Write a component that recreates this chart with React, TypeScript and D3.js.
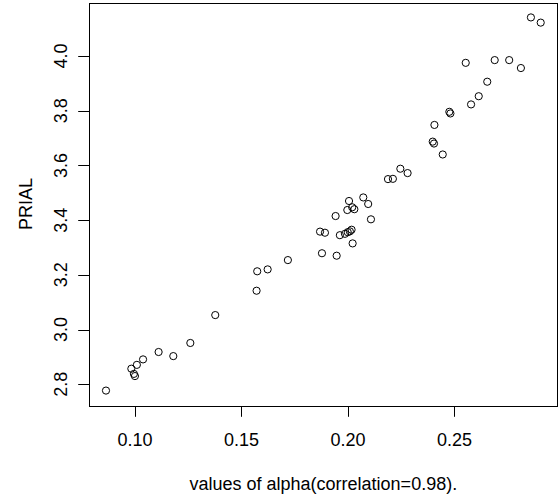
import React from "react";
import * as d3 from "d3";

// alpha values and the corresponding PRIAL for each replication
const alphaValues = [
  0.0864, 0.0983, 0.1009, 0.1038, 0.0995, 0.1000, 0.1111, 0.1180, 0.1260, 0.1377,
  0.1571, 0.1574, 0.1623, 0.1718, 0.1869, 0.1892, 0.1878, 0.1947, 0.1942, 0.1962,
  0.1986, 0.1999, 0.2009, 0.2017, 0.2022, 0.2005, 0.1997, 0.2020, 0.2030, 0.2072,
  0.2095, 0.2108, 0.2188, 0.2211, 0.2246, 0.2280, 0.2398, 0.2404, 0.2406, 0.2445,
  0.2476, 0.2481, 0.2578, 0.2614, 0.2654, 0.2553, 0.2689, 0.2757, 0.2812, 0.2859,
  0.2905,
];
const prialValues = [
  2.777, 2.857, 2.871, 2.891, 2.838, 2.830, 2.918, 2.903, 2.951, 3.053,
  3.142, 3.213, 3.220, 3.254, 3.358, 3.354, 3.279, 3.270, 3.415, 3.345,
  3.350, 3.356, 3.359, 3.365, 3.315, 3.470, 3.437, 3.447, 3.440, 3.483,
  3.459, 3.403, 3.550, 3.551, 3.588, 3.572, 3.687, 3.680, 3.748, 3.640,
  3.796, 3.790, 3.823, 3.853, 3.906, 3.975, 3.985, 3.985, 3.956, 4.141,
  4.122,
];
const xTicks = [0.1, 0.15, 0.2, 0.25];
const yTicks = [2.8, 3.0, 3.2, 3.4, 3.6, 3.8, 4.0];
const xLabel = "values of alpha(correlation=0.98).";
const yLabel = "PRIAL";

const W = 558;
const H = 495;
const left = 88.6;
const right = 558.1;
const top = 2.5;
const bottom = 405.5;
const font = "'Liberation Sans', Arial, Helvetica, sans-serif";
const fs = 18;
const tickLen = 10.8;

// extend a range by 4% on each side, as base graphics does
function padded(values: number[]): [number, number] {
  const [lo, hi] = d3.extent(values) as [number, number];
  const d = (hi - lo) * 0.04;
  return [lo - d, hi + d];
}

export default function App() {
  const x = d3.scaleLinear().domain(padded(alphaValues)).range([left, right]);
  const y = d3.scaleLinear().domain(padded(prialValues)).range([bottom, top]);
  const fmt = d3.format(".2f");
  const fmtY = d3.format(".1f");

  return (
    <svg
      width={W}
      height={H}
      style={{ position: "absolute", left: 0, top: 0, background: "#fff" }}
      fontFamily={font}
    >
      <rect x={0} y={0} width={W} height={H} fill="#fff" />
      {/* plot frame */}
      <rect
        x={Math.round(left) + 0.5}
        y={Math.round(top) + 0.5}
        width={Math.round(right) - Math.round(left) - 1}
        height={Math.round(bottom) - Math.round(top)}
        fill="none"
        stroke="#000"
        strokeWidth={1}
      />
      {/* x axis */}
      <g>
        {xTicks.map((t) => {
          const px = Math.round(x(t)) + 0.5;
          return (
            <g key={t}>
              <line x1={px} x2={px} y1={Math.round(bottom)} y2={Math.round(bottom) + tickLen} stroke="#000" />
              <text x={x(t)} y={445.7} fontSize={fs} textAnchor="middle" fill="#000">
                {fmt(t)}
              </text>
            </g>
          );
        })}
      </g>
      {/* y axis */}
      <g>
        {yTicks.map((t) => {
          const py = Math.round(y(t)) + 0.5;
          return (
            <g key={t}>
              <line x1={Math.round(left) - tickLen} x2={Math.round(left)} y1={py} y2={py} stroke="#000" />
              <text
                transform={`translate(67,${y(t)}) rotate(-90)`}
                fontSize={fs}
                textAnchor="middle"
                fill="#000"
              >
                {fmtY(t)}
              </text>
            </g>
          );
        })}
      </g>
      {/* axis titles */}
      <text x={(left + right) / 2} y={490} fontSize={fs} textAnchor="middle" fill="#000">
        {xLabel}
      </text>
      <text
        transform={`translate(31.7,${(top + bottom) / 2}) rotate(-90)`}
        fontSize={fs}
        textAnchor="middle"
        fill="#000"
      >
        {yLabel}
      </text>
      {/* points */}
      <g>
        {alphaValues.map((a, i) => (
          <circle key={i} cx={x(a)} cy={y(prialValues[i])} r={3.6} fill="none" stroke="#000" strokeWidth={1} />
        ))}
      </g>
    </svg>
  );
}
